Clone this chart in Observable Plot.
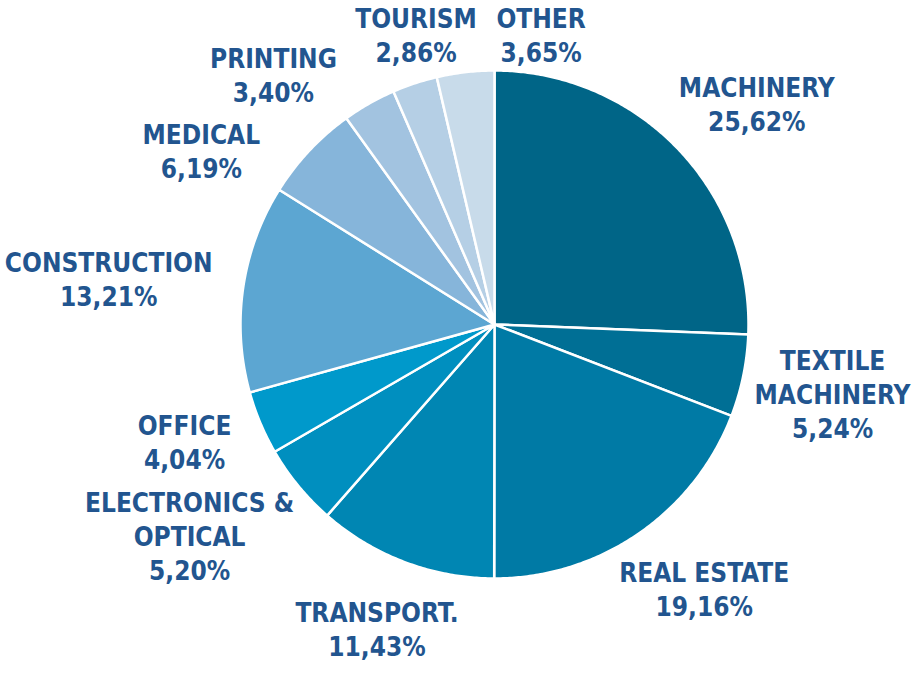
<!DOCTYPE html>
<html><head><meta charset="utf-8">
<script src="https://cdn.jsdelivr.net/npm/d3@7"></script>
<script src="https://cdn.jsdelivr.net/npm/@observablehq/plot@0.6"></script>
<style>
body{margin:0;background:#fff;}
#chart svg{font-stretch:condensed;}
</style>
</head><body><div id="chart"></div>
<script>
// ---- data ----
const categories = ["MACHINERY", "TEXTILE\nMACHINERY", "REAL ESTATE", "TRANSPORT.", "ELECTRONICS &\nOPTICAL", "OFFICE", "CONSTRUCTION", "MEDICAL", "PRINTING", "TOURISM", "OTHER"];
const shares = [25.62, 5.24, 19.16, 11.43, 5.20, 4.04, 13.21, 6.19, 3.40, 2.86, 3.65];
const sliceColors = ["#006587", "#006f95", "#007aa5", "#0086b3", "#008fbf", "#0099cb", "#5ca6d2", "#86b5da", "#a2c3e0", "#b5cfe5", "#c8dbea"];

// ---- layout ----
const W = 912, H = 694, cx = 494, cy = 324, R = 254;
const fontSize = 26, lineH = 34, gap = 32, padX = 18, padY = 8;
const fontFamily = "'DejaVu Sans Condensed', 'DejaVu Sans', sans-serif";
const textColor = "#22558f";

const rows = categories.map((name, i) => ({name, share: shares[i]}));
const arcs = d3.pie().sort(null).value(d => d.share).startAngle(0).endAngle(2 * Math.PI)(rows);

// slice polygons in unit-radius coordinates (y downward)
const pts = [];
arcs.forEach(a => {
  const n = Math.max(2, Math.ceil((a.endAngle - a.startAngle) / (Math.PI / 360)));
  pts.push({name: a.data.name, x: 0, y: 0});
  for (let k = 0; k <= n; k++) {
    const t = a.startAngle + (a.endAngle - a.startAngle) * k / n;
    pts.push({name: a.data.name, x: Math.sin(t), y: -Math.cos(t)});
  }
  pts.push({name: a.data.name, x: 0, y: 0});
});

// label placement (screen px), then converted to data coords
const ctx = document.createElement("canvas").getContext("2d");
ctx.font = `bold ${fontSize}px ${fontFamily}`;
try { ctx.fontStretch = "condensed"; } catch (e) {}
const labels = arcs.map(a => {
  const text = a.data.name + "\n" + a.data.share.toFixed(2).replace(".", ",") + "%";
  const lines = text.split("\n");
  const w = Math.max(...lines.map(l => ctx.measureText(l).width));
  const h = lines.length * lineH;
  const th = (a.startAngle + a.endAngle) / 2;
  const ux = Math.sin(th), uy = -Math.cos(th);
  return {text, w, h, th,
    x: cx + (R + gap) * ux + ux * w / 2,
    y: cy + (R + gap) * uy + uy * h / 2};
});
for (let it = 0; it < 600; it++) {
  let moved = false;
  for (let i = 0; i < labels.length; i++) for (let j = i + 1; j < labels.length; j++) {
    const a = labels[i], b = labels[j];
    const ox = (a.w + b.w) / 2 + padX - Math.abs(a.x - b.x);
    const oy = (a.h + b.h) / 2 + padY - Math.abs(a.y - b.y);
    if (ox > 0 && oy > 0) {
      moved = true;
      a.x -= Math.cos(a.th); a.y -= Math.sin(a.th);
      b.x += Math.cos(b.th); b.y += Math.sin(b.th);
    }
  }
  labels.forEach(l => {
    l.x = Math.min(W - l.w / 2 - 2, Math.max(l.w / 2 + 2, l.x));
    l.y = Math.min(H - l.h / 2, Math.max(l.h / 2, l.y));
  });
  if (!moved) break;
}
const labelData = labels.map(l => ({text: l.text, x: (l.x - cx) / R, y: (l.y - cy) / R}));

const chart = Plot.plot({
  width: W, height: H, margin: 0,
  style: {fontFamily, background: "#fff"},
  x: {domain: [-cx / R, (W - cx) / R], range: [0, W], axis: null},
  y: {domain: [-cy / R, (H - cy) / R], range: [0, H], axis: null},
  color: {type: "ordinal", domain: categories, range: sliceColors},
  marks: [
    Plot.line(pts, {x: "x", y: "y", z: "name", fill: "name", stroke: "white", strokeWidth: 2.5, strokeLinejoin: "round"}),
    Plot.text(labelData, {x: "x", y: "y", text: "text", fontSize, fontWeight: "bold", fill: textColor, lineHeight: lineH / fontSize, textAnchor: "middle", lineAnchor: "middle"})
  ]
});
document.getElementById("chart").appendChild(chart);
</script>
</body></html>
